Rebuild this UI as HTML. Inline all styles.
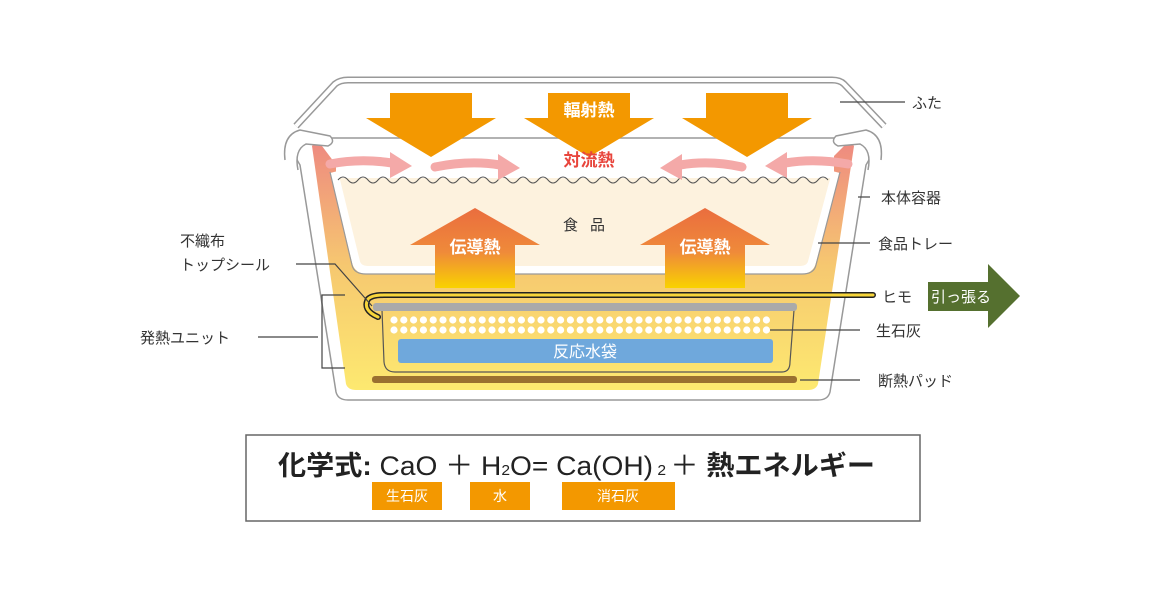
<!DOCTYPE html>
<html><head><meta charset="utf-8"><style>
html,body{margin:0;padding:0;background:#fff;width:1160px;height:601px;overflow:hidden}
svg{display:block}
text{font-family:"Liberation Sans","Noto Sans CJK JP",sans-serif}
</style></head><body>
<svg width="1160" height="601" viewBox="0 0 1160 601" xmlns="http://www.w3.org/2000/svg">
<defs>
<linearGradient id="body" x1="0" y1="0" x2="0" y2="1">
<stop offset="0" stop-color="#ee8a80"/><stop offset="0.25" stop-color="#f2a878"/><stop offset="0.5" stop-color="#f6c870"/><stop offset="1" stop-color="#fde970"/>
</linearGradient>
<linearGradient id="up" x1="0" y1="0" x2="0" y2="1">
<stop offset="0" stop-color="#ea6d3e"/><stop offset="0.55" stop-color="#ef8a3a"/><stop offset="1" stop-color="#f9d200"/>
</linearGradient>
</defs>
<path d="M296,126 L335,84 Q340,80 348,80 L832,80 Q840,80 844,84 L884,126" fill="none" stroke="#999" stroke-width="7" stroke-linejoin="round"/>
<path d="M296,126 L335,84 Q340,80 348,80 L832,80 Q840,80 844,84 L884,126" fill="none" stroke="#fff" stroke-width="4" stroke-linejoin="round"/>
<path d="M298,138 Q290,150 300,165 L336,392 Q338,400 348,400 L818,400 Q828,400 830,392 L866,165 Q876,150 868,138 Z" fill="#fff" stroke="#999" stroke-width="1.5"/>
<path d="M312,146 L346,384 Q348,390 356,390 L808,390 Q816,390 818,384 L854,146 Q850,140 844,146 L820,170 L340,170 L322,146 Q316,140 312,146Z" fill="url(#body)"/>
<path d="M285,160 Q282,135 300,130 L330,136 Q336,142 328,146 L306,144 Q294,150 298,170" fill="#fff" stroke="#999" stroke-width="1.5"/>
<path d="M881,160 Q884,135 866,130 L836,136 Q830,142 838,146 L860,144 Q872,150 868,170" fill="#fff" stroke="#999" stroke-width="1.5"/>
<path d="M334,172 L356,262 Q358,270 368,270 L800,270 Q810,270 812,262 L836,172" fill="#fdf2de" stroke="#fff" stroke-width="8" stroke-linejoin="round"/>
<path d="M330,172 L352,265 Q354,274 366,274 L802,274 Q814,274 816,265 L840,172" fill="none" stroke="#999" stroke-width="1.2"/>
<rect x="336" y="150" width="498" height="28" fill="#fff"/>
<path d="M338,180 q5,-6 10,0 t10,0 t10,0 t10,0 t10,0 t10,0 t10,0 t10,0 t10,0 t10,0 t10,0 t10,0 t10,0 t10,0 t10,0 t10,0 t10,0 t10,0 t10,0 t10,0 t10,0 t10,0 t10,0 t10,0 t10,0 t10,0 t10,0 t10,0 t10,0 t10,0 t10,0 t10,0 t10,0 t10,0 t10,0 t10,0 t10,0 t10,0 t10,0 t10,0 t10,0 t10,0 t10,0 t10,0 t10,0 t10,0 t10,0 t10,0 t10,0" fill="none" stroke="#555" stroke-width="1"/>
<g fill="#f39800">
<polygon points="390,93 472,93 472,118 496,118 431,157 366,118 390,118"/>
<polygon points="548,93 630,93 630,118 654,118 589,157 524,118 548,118"/>
<polygon points="706,93 788,93 788,118 812,118 747,157 682,118 706,118"/>
</g>
<text x="589" y="116" font-size="17" font-weight="bold" fill="#fff" text-anchor="middle">輻射熱</text>
<g stroke="#f4a9a8" stroke-width="9" fill="none" stroke-linecap="round">
<path d="M330,164 Q360,158 392,163"/><path d="M435,167 Q470,160 500,165"/>
<path d="M742,167 Q710,160 680,165"/><path d="M848,164 Q815,158 785,163"/>
</g>
<g fill="#f4a9a8">
<polygon points="390,152 412,166 390,178"/><polygon points="498,154 520,168 498,180"/>
<polygon points="682,154 660,168 682,180"/><polygon points="787,152 765,166 787,178"/>
</g>
<text x="589" y="166" font-size="17" font-weight="bold" fill="#e8453c" text-anchor="middle">対流熱</text>
<text x="590" y="230" font-size="15" fill="#333" text-anchor="middle" letter-spacing="12">食品</text>
<polygon points="475,208 540,245 515,245 515,288 435,288 435,245 410,245" fill="url(#up)"/>
<polygon points="705,208 770,245 745,245 745,288 665,288 665,245 640,245" fill="url(#up)"/>
<text x="475" y="253" font-size="17" font-weight="bold" fill="#fff" text-anchor="middle">伝導熱</text>
<text x="705" y="253" font-size="17" font-weight="bold" fill="#fff" text-anchor="middle">伝導熱</text>
<path d="M382,310 L384,362 Q385,372 395,372 L782,372 Q790,372 790,362 L794,310" fill="none" stroke="#555" stroke-width="1.2"/>
<rect x="373" y="303" width="424" height="8" rx="3" fill="#aaa"/>
<g fill="#fff" id="dg"></g>
<rect x="398" y="339" width="375" height="24" rx="3" fill="#6fa8dc"/>
<text x="585" y="357" font-size="16" fill="#fff" text-anchor="middle">反応水袋</text>
<rect x="372" y="376" width="425" height="7" rx="3" fill="#9a7030"/>
<path d="M378,317 Q362,310 368,299 Q372,295 384,295 L873,295" fill="none" stroke="#222" stroke-width="6" stroke-linecap="round"/>
<path d="M378,317 Q362,310 368,299 Q372,295 384,295 L873,295" fill="none" stroke="#f7d53a" stroke-width="3" stroke-linecap="round"/>
<g stroke="#444" stroke-width="1.2" fill="none">
<line x1="840" y1="102" x2="905" y2="102"/>
<line x1="858" y1="197" x2="870" y2="197"/>
<line x1="818" y1="243" x2="870" y2="243"/>
<line x1="770" y1="330" x2="860" y2="330"/>
<line x1="800" y1="380" x2="860" y2="380"/>
<path d="M296,264 L335,264 L372,306"/>
<path d="M345,295 L322,295 L322,368 L345,368"/>
<line x1="258" y1="337" x2="318" y2="337"/>
</g>
<g font-size="15" fill="#333">
<text x="912" y="108">ふた</text>
<text x="881" y="203">本体容器</text>
<text x="878" y="249">食品トレー</text>
<text x="882" y="302">ヒモ</text>
<text x="876" y="336">生石灰</text>
<text x="878" y="386">断熱パッド</text>
<text x="180" y="246">不織布</text>
<text x="180" y="270">トップシール</text>
<text x="140" y="343">発熱ユニット</text>
</g>
<polygon points="928,282 988,282 988,264 1020,296 988,328 988,311 928,311" fill="#55702f"/>
<text x="931" y="302" font-size="15" fill="#fff">引っ張る</text>
<rect x="246" y="435" width="674" height="86" fill="#fff" stroke="#666" stroke-width="1.5"/>
<text x="278" y="475" font-size="27" font-weight="bold" fill="#222" textLength="597" lengthAdjust="spacingAndGlyphs">化学式: <tspan font-weight="normal">CaO ＋ H</tspan><tspan font-size="15" font-weight="normal">2</tspan><tspan font-weight="normal">O= Ca(OH)</tspan><tspan font-size="15" font-weight="normal"> 2 </tspan><tspan font-weight="normal">＋ </tspan>熱エネルギー</text>
<rect x="372" y="482" width="70" height="28" fill="#f39800"/>
<rect x="470" y="482" width="60" height="28" fill="#f39800"/>
<rect x="562" y="482" width="113" height="28" fill="#f39800"/>
<g font-size="14" fill="#fff" text-anchor="middle">
<text x="407" y="501">生石灰</text><text x="500" y="501">水</text><text x="618" y="501">消石灰</text>
</g>
</svg>
<script>
var g=document.getElementById('dg');var s='';
for(var r=0;r<2;r++){for(var i=0;i<39;i++){s+='<circle cx="'+(394+i*9.8)+'" cy="'+(320+r*10)+'" r="3.6"/>';}}
g.innerHTML=s;
</script>
</body></html>
